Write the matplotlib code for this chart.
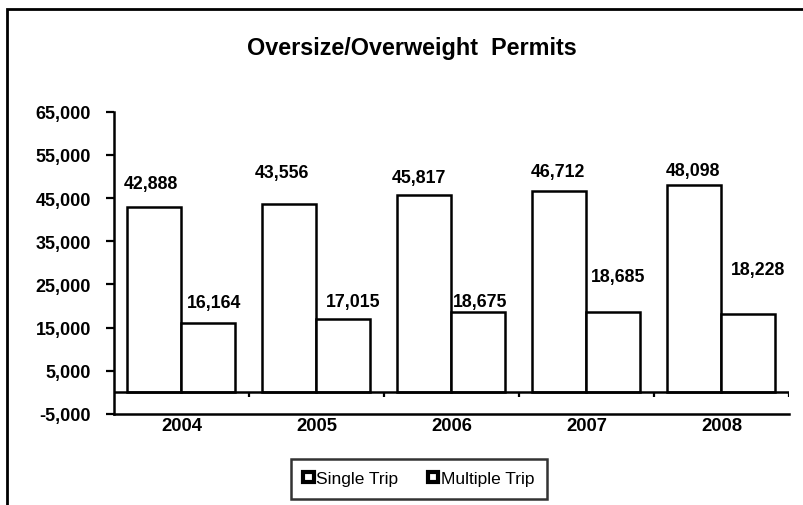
import numpy as np
import matplotlib
matplotlib.use("Agg")
import matplotlib.pyplot as plt
from matplotlib.patches import Patch, Rectangle
from matplotlib.ticker import FuncFormatter

# data
years = ["2004", "2005", "2006", "2007", "2008"]
single_trip = [42888, 43556, 45817, 46712, 48098]
multiple_trip = [16164, 17015, 18675, 18685, 18228]

# label offsets in pixels (dx, dy above bar top), placed by hand in the original
single_off = [(-4, 24), (-8, 32), (-6, 17), (-2, 19), (-1, 14)]
multiple_off = [(6, 20), (10, 17), (2, 10), (5, 35), (10, 44)]

plt.rcParams['font.family'] = ['Liberation Sans', 'DejaVu Sans']

fig = plt.figure(figsize=(8.04, 5.06), dpi=100)
ax = fig.add_axes([114 / 804, (506 - 415) / 506, (789 - 114) / 804, (415 - 112.7) / 506])

x = np.arange(len(years))
w = 0.4
px = 72 / 100  # points per pixel

ax.bar(x - w / 2, single_trip, w, color='white', edgecolor='black', linewidth=1.8, label='Single Trip')
ax.bar(x + w / 2, multiple_trip, w, color='white', edgecolor='black', linewidth=1.8, label='Multiple Trip')

for i in range(len(years)):
    dx, dy = single_off[i]
    ax.annotate(f"{single_trip[i]:,}", (x[i] - w / 2, single_trip[i]), xytext=(dx * px, dy * px),
                textcoords='offset points', ha='center', va='center', fontsize=12.8, fontweight='bold')
    dx, dy = multiple_off[i]
    ax.annotate(f"{multiple_trip[i]:,}", (x[i] + w / 2, multiple_trip[i]), xytext=(dx * px, dy * px),
                textcoords='offset points', ha='center', va='center', fontsize=12.8, fontweight='bold')

# category axis crosses at zero, with tick marks at the group boundaries
ax.axhline(0, color='black', linewidth=1.8)
bounds = x + 0.5
ax.vlines(bounds, -1150, 0, color='black', linewidth=1.6)

ax.set_xlim(-0.5, len(years) - 0.5)
ax.set_ylim(-5000, 65000)
ax.set_yticks(np.arange(-5000, 65001, 10000))
ax.yaxis.set_major_formatter(FuncFormatter(lambda v, p: f"{int(v):,}"))
ax.set_xticks(x)
ax.set_xticklabels(years)

for s in ['top', 'right']:
    ax.spines[s].set_visible(False)
for s in ['left', 'bottom']:
    ax.spines[s].set_linewidth(1.8)

ax.tick_params(axis='y', direction='out', length=5.5, width=1.6, pad=11, labelsize=13)
ax.tick_params(axis='x', length=0, pad=2, labelsize=13.3)
for lab in ax.get_xticklabels() + ax.get_yticklabels():
    lab.set_fontweight('bold')

fig.text(412 / 804, (506 - 48) / 506, "Oversize/Overweight  Permits", ha='center', va='center',
         fontsize=16.8, fontweight='bold')

handles = [Patch(facecolor='white', edgecolor='black', linewidth=3, label='Single Trip'),
           Patch(facecolor='white', edgecolor='black', linewidth=3, label='Multiple Trip')]
leg = fig.legend(handles=handles, loc='center', bbox_to_anchor=(419 / 804, (506 - 480) / 506), ncol=2,
                 fontsize=12.5, frameon=True, fancybox=False, handlelength=0.6, handleheight=0.5,
                 handletextpad=0.15, columnspacing=1.7, borderpad=0.7)
leg.get_frame().set_edgecolor('black')
leg.get_frame().set_linewidth(1.8)

# outer chart border (right and bottom edges fall outside the image)
fig.patches.append(Rectangle((7 / 804, -0.2), 1.5, (506 - 10) / 506 + 0.2, transform=fig.transFigure,
                             fill=False, edgecolor='black', linewidth=2, clip_on=False))

fig.savefig("out.png", dpi=100)
